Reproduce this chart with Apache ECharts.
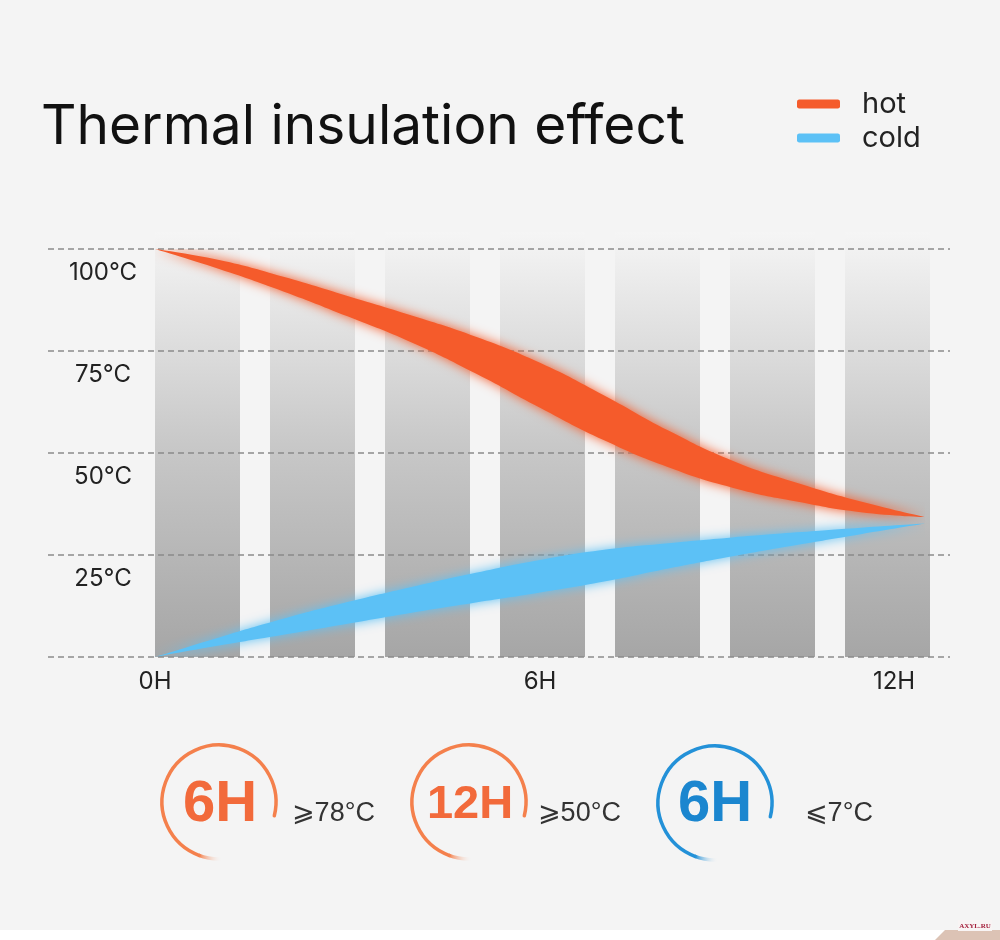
<!DOCTYPE html>
<html>
<head>
<meta charset="utf-8">
<title>Thermal insulation effect</title>
<script src="https://cdn.jsdelivr.net/npm/echarts@6/dist/echarts.min.js"></script>
<style>
  html, body { margin: 0; padding: 0; background: #f4f4f4; }
  #chart { width: 1000px; height: 940px; }
</style>
</head>
<body>
<div id="chart"></div>
<script>
// hours along the x axis
var hours = ['0', '1', '2', '3', '4', '5', '6', '7', '8', '9', '10', '11', '12'];
// temperature (°C) along the middle of each band, and band thickness in °C
var hotCenter  = [100, 96.2, 91.4, 86.0, 80.4, 74.0, 66.6, 58.6, 51.0, 44.8, 40.4, 36.8, 34.3];
var hotSpread  = [0, 2.2, 3.6, 5.0, 6.6, 9.0, 11.0, 11.0, 9.0, 6.6, 4.6, 2.6, 0];
var coldCenter = [0, 3.8, 7.4, 10.8, 14.0, 17.0, 19.8, 22.4, 24.8, 27.0, 29.0, 30.9, 32.7];
var coldSpread = [0, 2.0, 3.9, 5.3, 6.3, 7.3, 8.0, 7.8, 6.2, 4.6, 3.1, 1.6, 0];

var xLabelHours = ['0', '6', '12'];
var yTicks = [25, 50, 75, 100];
var columnCats = ['c1', 'c2', 'c3', 'c4', 'c5', 'c6', 'c7'];
var columnLevels = [1, 1, 1, 1, 1, 1, 1];

var badgeHours = ['6H', '12H', '6H'];
var badgeTemps = ['\u2A7E78°C', '\u2A7E50°C', '\u2A7D7°C'];

var hotColor = '#f55b2b';
var coldColor = '#5cc1f6';
var fontFam = 'Inter, Liberation Sans, Arial, sans-serif';
var boldFam = 'Liberation Sans, Arial, sans-serif';

function lowerEdge(center, spread) {
  return center.map(function (c, i) { return +(c - spread[i] / 2).toFixed(2); });
}

var myChart = echarts.init(document.getElementById('chart'));

// badges along the bottom
var badgePos = [
  { cx: 219, cy: 802, tx: 220, size: 58, ty: 805, rx: 292, arc: '#f4804c', txt: '#f26a3b' },
  { cx: 469, cy: 802, tx: 470, size: 47, ty: 805, rx: 538, arc: '#f4804c', txt: '#f26a3b' },
  { cx: 715, cy: 803, tx: 715, size: 58, ty: 805, rx: 805, arc: '#2391d8', txt: '#1b86cf' }
];
var graphics = [];
badgePos.forEach(function (b, i) {
  var r = 57;
  var a0 = 110 * Math.PI / 180;
  graphics.push({
    type: 'arc', silent: true,
    shape: { cx: b.cx, cy: b.cy, r: r, startAngle: a0, endAngle: Math.PI * 2 + 14 * Math.PI / 180, clockwise: true },
    style: { stroke: b.arc, lineWidth: 3.5, fill: null, lineCap: 'round' }
  });
  graphics.push({
    type: 'arc', silent: true,
    shape: { cx: b.cx, cy: b.cy, r: r, startAngle: 86 * Math.PI / 180, endAngle: a0 + 0.02, clockwise: true },
    style: {
      fill: null, lineWidth: 3.5,
      stroke: new echarts.graphic.LinearGradient(b.cx - 20, 0, b.cx + 3, 0, [
        { offset: 0, color: b.arc },
        { offset: 1, color: 'rgba(244,244,244,0)' }
      ], true)
    }
  });
  graphics.push({
    type: 'text', silent: true, x: b.tx, y: b.ty,
    style: {
      text: badgeHours[i], fill: b.txt, fontSize: b.size, fontWeight: 'bold',
      fontFamily: boldFam, align: 'center', verticalAlign: 'middle'
    }
  });
  graphics.push({
    type: 'text', silent: true, x: b.rx, y: 814,
    style: {
      text: badgeTemps[i], fill: '#333', fontSize: 27,
      fontFamily: 'Liberation Sans, DejaVu Sans, sans-serif', align: 'left', verticalAlign: 'middle'
    }
  });
});
// white strip and mark at the very bottom
graphics.push({ type: 'rect', silent: true, shape: { x: 0, y: 930, width: 1000, height: 10 }, style: { fill: '#ffffff' } });
graphics.push({ type: 'polygon', silent: true, shape: { points: [[945, 930], [1000, 930], [1000, 940], [935, 940]] }, style: { fill: '#dcc3b5' } });
graphics.push({ type: 'rect', silent: true, shape: { x: 958, y: 920, width: 34, height: 11 }, style: { fill: '#f8f4f4' } });
graphics.push({
  type: 'text', silent: true, x: 975, y: 926,
  style: { text: 'AXYL.RU', fill: '#a5203c', fontSize: 7, fontWeight: 'bold', fontFamily: 'Liberation Serif, serif', align: 'center', verticalAlign: 'middle' }
});

var option = {
  backgroundColor: '#f4f4f4',
  animation: false,
  title: {
    text: 'Thermal insulation effect',
    left: 41,
    top: 100,
    padding: 0,
    textStyle: { color: '#111', fontSize: 55, fontWeight: 'normal', fontFamily: fontFam }
  },
  legend: {
    orient: 'vertical',
    left: 797,
    top: 89,
    padding: 0,
    itemGap: 4,
    itemWidth: 43,
    itemHeight: 9,
    icon: 'roundRect',
    data: [
      { name: 'hot', itemStyle: { color: hotColor } },
      { name: 'cold', itemStyle: { color: coldColor } }
    ],
    textStyle: { color: '#222', fontSize: 29, lineHeight: 30, padding: [0, 0, 0, 17], fontFamily: fontFam }
  },
  grid: [
    // dashed guide lines + temperature labels
    { left: 48, right: 50, top: 249, bottom: 283 },
    // grey columns
    { left: 140, width: 805, top: 232, bottom: 283 },
    // temperature bands, 0H..12H
    { left: 155, width: 770, top: 249, bottom: 283 }
  ],
  xAxis: [
    { type: 'value', gridIndex: 0, min: 0, max: 1, show: false },
    { type: 'category', gridIndex: 1, data: columnCats, show: false },
    {
      type: 'category', gridIndex: 2, data: hours, boundaryGap: false,
      axisLine: { show: false }, axisTick: { show: false }, splitLine: { show: false },
      axisLabel: {
        interval: function (idx, val) { return xLabelHours.indexOf(val) >= 0; },
        margin: 13,
        color: '#222', fontSize: 24, fontFamily: fontFam,
        formatter: function (v) { return v === '12' ? '{end|' + v + 'H}' : v + 'H'; },
        rich: { end: { color: '#222', fontSize: 24, fontFamily: fontFam, padding: [0, 62, 0, 0] } }
      }
    }
  ],
  yAxis: [
    {
      type: 'value', gridIndex: 0, min: 0, max: 100, interval: 25, z: 1,
      axisLine: { show: false }, axisTick: { show: false },
      splitLine: { show: true, lineStyle: { color: '#8a8a8a', width: 1.6, type: [6, 4] } },
      axisLabel: {
        inside: true, margin: 55, align: 'center', verticalAlign: 'top', padding: [12, 0, 0, 0],
        color: '#222', fontSize: 24, fontFamily: fontFam,
        customValues: yTicks,
        formatter: function (v) { return v + '°C'; }
      }
    },
    { type: 'value', gridIndex: 1, min: 0, max: 1, show: false },
    { type: 'value', gridIndex: 2, min: 0, max: 100, show: false }
  ],
  series: [
    {
      type: 'bar', name: 'columns', xAxisIndex: 1, yAxisIndex: 1, z: 0, silent: true,
      barWidth: 85, data: columnLevels,
      itemStyle: {
        color: new echarts.graphic.LinearGradient(0, 0, 0, 1, [
          { offset: 0, color: '#f5f5f5' },
          { offset: 0.5, color: '#c8c8c8' },
          { offset: 1, color: '#a6a6a6' }
        ])
      }
    },
    {
      type: 'line', name: 'hot-base', stack: 'hot', xAxisIndex: 2, yAxisIndex: 2,
      data: lowerEdge(hotCenter, hotSpread), smooth: 0.5,
      symbol: 'none', silent: true, z: 2, lineStyle: { width: 0, opacity: 0 }
    },
    {
      type: 'line', name: 'hot', stack: 'hot', xAxisIndex: 2, yAxisIndex: 2,
      data: hotSpread, smooth: 0.5,
      symbol: 'none', silent: true, z: 3, color: hotColor,
      lineStyle: { width: 0, opacity: 0 },
      areaStyle: { color: hotColor, opacity: 1, shadowBlur: 12, shadowColor: hotColor }
    },
    {
      type: 'line', name: 'cold-base', stack: 'cold', xAxisIndex: 2, yAxisIndex: 2,
      data: lowerEdge(coldCenter, coldSpread), smooth: 0.5,
      symbol: 'none', silent: true, z: 2, lineStyle: { width: 0, opacity: 0 }
    },
    {
      type: 'line', name: 'cold', stack: 'cold', xAxisIndex: 2, yAxisIndex: 2,
      data: coldSpread, smooth: 0.5,
      symbol: 'none', silent: true, z: 3, color: coldColor,
      lineStyle: { width: 0, opacity: 0 },
      areaStyle: { color: coldColor, opacity: 1, shadowBlur: 12, shadowColor: coldColor }
    }
  ],
  graphic: graphics
};
myChart.setOption(option);
window.addEventListener('resize', function () {
  myChart.resize();
});
</script>
</body>
</html>
